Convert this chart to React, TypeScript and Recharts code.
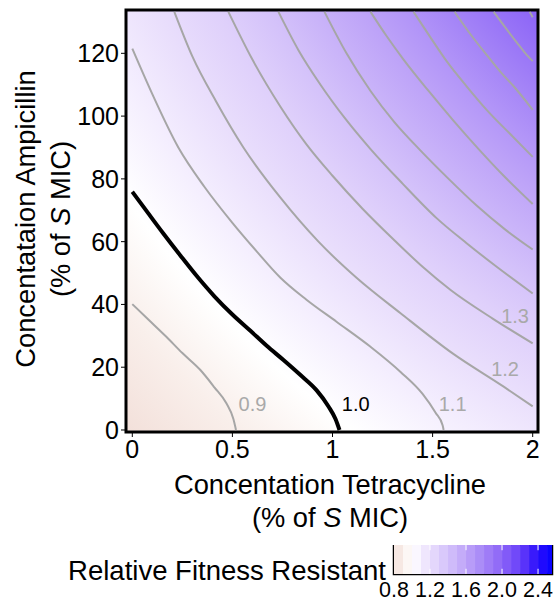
import React from "react";
import {
  ComposedChart,
  Line,
  Scatter,
  XAxis,
  YAxis,
  ReferenceArea,
  ReferenceLine,
  BarChart,
  Bar,
  Cell,
} from "recharts";

type Pt = { x: number; y: number };

const FONT = "'Liberation Sans', Arial, sans-serif";

// contour lines (x = tetracycline, y = ampicillin)
const c09: Pt[] = [
  { x: 0, y: 40.1 }, { x: 0.08, y: 35.2 }, { x: 0.17, y: 29.7 }, { x: 0.25, y: 24.5 },
  { x: 0.34, y: 19.1 }, { x: 0.41, y: 13.6 }, { x: 0.47, y: 8.5 }, { x: 0.505, y: 3.5 },
  { x: 0.518, y: 0 },
];
const c10: Pt[] = [
  { x: 0, y: 75.9 }, { x: 0.08, y: 69 }, { x: 0.155, y: 62.6 }, { x: 0.24, y: 55.6 },
  { x: 0.32, y: 49.2 }, { x: 0.41, y: 42.6 }, { x: 0.5, y: 36.8 }, { x: 0.59, y: 31.6 },
  { x: 0.67, y: 26.9 }, { x: 0.755, y: 22.3 }, { x: 0.84, y: 17.5 }, { x: 0.92, y: 12.7 },
  { x: 0.98, y: 7.5 }, { x: 1.015, y: 3.5 }, { x: 1.035, y: 0 },
];
const c11: Pt[] = [
  { x: 0, y: 121.5 }, { x: 0.1, y: 107 }, { x: 0.23, y: 90 }, { x: 0.36, y: 77.5 },
  { x: 0.5, y: 66 }, { x: 0.62, y: 57 }, { x: 0.74, y: 48.5 }, { x: 0.87, y: 41.5 },
  { x: 1.02, y: 34.5 }, { x: 1.19, y: 26.5 }, { x: 1.34, y: 18.5 }, { x: 1.45, y: 11.5 },
  { x: 1.515, y: 5.5 }, { x: 1.55, y: 1.5 }, { x: 1.555, y: 0 },
];
const c12: Pt[] = [
  { x: 0.21, y: 133.2 }, { x: 0.3, y: 119 }, { x: 0.42, y: 104.5 }, { x: 0.555, y: 90 },
  { x: 0.74, y: 74 }, { x: 0.93, y: 60 }, { x: 1.12, y: 48.5 }, { x: 1.34, y: 37.2 },
  { x: 1.6, y: 24.4 }, { x: 1.855, y: 13.8 }, { x: 2.0, y: 7.5 },
];
const c13: Pt[] = [
  { x: 0.48, y: 133.2 }, { x: 0.6, y: 118 }, { x: 0.74, y: 103 }, { x: 0.87, y: 91 },
  { x: 1.0, y: 81 }, { x: 1.15, y: 70.5 }, { x: 1.3, y: 61 }, { x: 1.45, y: 52 },
  { x: 1.59, y: 44.6 }, { x: 1.8, y: 35.5 }, { x: 2.0, y: 27.6 },
];
const c14: Pt[] = [
  { x: 0.73, y: 133.2 }, { x: 0.83, y: 121 }, { x: 0.94, y: 110 }, { x: 1.06, y: 99.5 },
  { x: 1.19, y: 89.5 }, { x: 1.35, y: 78.5 }, { x: 1.52, y: 67.5 }, { x: 1.67, y: 59.5 },
  { x: 1.82, y: 52 }, { x: 2.0, y: 43.5 },
];
const c15: Pt[] = [
  { x: 0.96, y: 133.2 }, { x: 1.07, y: 120 }, { x: 1.19, y: 108 }, { x: 1.31, y: 98 },
  { x: 1.44, y: 89 }, { x: 1.58, y: 80 }, { x: 1.72, y: 71.5 }, { x: 1.86, y: 64 },
  { x: 2.0, y: 57.5 },
];
const c16: Pt[] = [
  { x: 1.19, y: 133.2 }, { x: 1.27, y: 125.5 }, { x: 1.355, y: 118 }, { x: 1.48, y: 108 },
  { x: 1.605, y: 98.5 }, { x: 1.73, y: 89.5 }, { x: 1.855, y: 81 }, { x: 2.0, y: 72 },
];
const c17: Pt[] = [
  { x: 1.405, y: 133.2 }, { x: 1.49, y: 125 }, { x: 1.57, y: 117.5 }, { x: 1.67, y: 109.5 },
  { x: 1.77, y: 102 }, { x: 1.9, y: 93.5 }, { x: 2.0, y: 87 },
];
const c18: Pt[] = [
  { x: 1.61, y: 133.2 }, { x: 1.69, y: 126 }, { x: 1.77, y: 119.5 }, { x: 1.84, y: 114 },
  { x: 1.905, y: 109.5 }, { x: 2.0, y: 102 },
];
const c19: Pt[] = [
  { x: 1.805, y: 133.2 }, { x: 1.86, y: 128.5 }, { x: 1.92, y: 123.5 }, { x: 1.97, y: 119.5 },
  { x: 2.0, y: 117.5 },
];
const c20: Pt[] = [{ x: 1.985, y: 133.2 }, { x: 2.0, y: 131.5 }];

const grayContours = [c09, c11, c12, c13, c14, c15, c16, c17, c18, c19, c20];

const contourLabels = [
  { x: 0.6, y: 8.3, text: "0.9", dark: false },
  { x: 1.116, y: 8.2, text: "1.0", dark: true },
  { x: 1.6, y: 8.2, text: "1.1", dark: false },
  { x: 1.862, y: 19.3, text: "1.2", dark: false },
  { x: 1.912, y: 36.2, text: "1.3", dark: false },
];

const xTicks = [0, 0.5, 1, 1.5, 2];
const yTicks = [0, 20, 40, 60, 80, 100, 120];

// colour bar blocks (centre of each 0.1 step)
const legendBins = [
  0.85, 0.95, 1.05, 1.15, 1.25, 1.35, 1.45, 1.55, 1.65, 1.75, 1.85, 1.95, 2.05, 2.15, 2.25, 2.35, 2.45, 2.55,
];
const legendTicks = [0.8, 1.2, 1.6, 2.0, 2.4];
const legendMarks = [1.2, 1.6, 2.0, 2.4];

// colour scale of the fill
const colorStops: [number, string][] = [
  [0.5, "#ecd0c6"], [0.8, "#f3e0da"], [0.9, "#f9efeb"], [1.0, "#ffffff"],
  [1.1, "#f4eefe"], [1.2, "#e9defc"], [1.4, "#d4c2fa"], [1.6, "#bea4f8"],
  [1.8, "#a585f7"], [2.0, "#8b63f7"], [2.2, "#6840f9"], [2.4, "#2a0dfc"], [2.6, "#0000ff"],
];

// radial fill: offset from the far top-right centre -> fitness level
const bgStops: [number, number][] = [
  [0.5, 2.0], [0.529, 1.9], [0.558, 1.8], [0.587, 1.7], [0.618, 1.6], [0.651, 1.5],
  [0.684, 1.4], [0.721, 1.3], [0.767, 1.2], [0.817, 1.1], [0.872, 1.0], [0.932, 0.9], [1.0, 0.8],
];

function hex(c: string) {
  return [1, 3, 5].map((i) => parseInt(c.slice(i, i + 2), 16));
}
function colorAt(v: number) {
  for (let i = 0; i < colorStops.length - 1; i++) {
    const [a, ca] = colorStops[i];
    const [b, cb] = colorStops[i + 1];
    if (v <= b || i === colorStops.length - 2) {
      const t = Math.max(0, Math.min(1, (v - a) / (b - a)));
      const A = hex(ca);
      const B = hex(cb);
      return `rgb(${A.map((x, k) => Math.round(x + (B[k] - x) * t)).join(",")})`;
    }
  }
  return "#fff";
}

const legendData = legendBins.map((v) => ({ v, h: 1 }));

const LabelDot = (p: any) => (
  <text
    x={p.cx}
    y={p.cy}
    textAnchor="middle"
    dominantBaseline="central"
    fontSize={20}
    fontFamily={FONT}
    fill={p.payload.dark ? "#000" : "#a9a9a9"}
  >
    {p.payload.text}
  </text>
);

const XTitle = (props: any) => {
  const vb = props.viewBox;
  const cx = vb.x + vb.width / 2 - 2;
  return (
    <text textAnchor="middle" fontSize={27.3} fontFamily={FONT} fill="#000">
      <tspan x={cx} y={vb.y + 62}>Concentation Tetracycline</tspan>
      <tspan x={cx} y={vb.y + 95}>
        (% of <tspan fontStyle="italic">S</tspan> MIC)
      </tspan>
    </text>
  );
};

const YTitle = (props: any) => {
  const vb = props.viewBox;
  const cy = vb.y + vb.height / 2 - 2;
  return (
    <g transform={`rotate(-90, 0, ${cy})`}>
      <text textAnchor="middle" fontSize={27.3} fontFamily={FONT} fill="#000">
        <tspan x={0} y={cy + 35}>Concentataion Ampicillin</tspan>
        <tspan x={0} y={cy + 70}>
          (% of <tspan fontStyle="italic">S</tspan> MIC)
        </tspan>
      </text>
    </g>
  );
};

export default function App() {
  const tick = { fontSize: 25, fill: "#000", fontFamily: FONT };
  return (
    <div style={{ position: "absolute", left: 0, top: 0, width: 555, height: 601, background: "#fff" }}>
      <ComposedChart width={555} height={601} margin={{ top: 10, right: 17, bottom: 0, left: 0 }}>
        <defs>
          <radialGradient id="bgGrad" gradientUnits="objectBoundingBox" cx={2} cy={-1} r={2.828}>
            {bgStops.map(([o, v], i) => (
              <stop key={i} offset={o} stopColor={colorAt(v)} />
            ))}
          </radialGradient>
        </defs>
        <XAxis
          type="number"
          dataKey="x"
          domain={[-0.0315, 2.0265]}
          allowDataOverflow
          ticks={xTicks}
          tickFormatter={(v) => String(v)}
          axisLine={false}
          tickLine={{ stroke: "#000" }}
          tickSize={5}
          tickMargin={3}
          tick={tick}
          height={169}
          label={{ content: XTitle }}
        />
        <YAxis
          type="number"
          dataKey="y"
          domain={[-0.64, 133.8]}
          allowDataOverflow
          ticks={yTicks}
          axisLine={false}
          tickLine={{ stroke: "#000" }}
          tickSize={5}
          tickMargin={2}
          tick={tick}
          width={126}
          label={{ content: YTitle }}
        />
        <ReferenceArea
          x1={-0.0315}
          x2={2.0265}
          y1={-0.64}
          y2={133.8}
          fill="url(#bgGrad)"
          fillOpacity={1}
          stroke="#000"
          strokeWidth={3}
          zIndex={-10}
        />
        {grayContours.map((pts, i) => (
          <Line
            key={i}
            data={pts}
            dataKey="y"
            type="monotone"
            stroke="#a6a6a6"
            strokeWidth={2}
            dot={false}
            activeDot={false}
            isAnimationActive={false}
          />
        ))}
        <Line
          data={c10}
          dataKey="y"
          type="monotone"
          stroke="#000"
          strokeWidth={4}
          dot={false}
          activeDot={false}
          isAnimationActive={false}
        />
        <Scatter data={contourLabels} dataKey="y" shape={LabelDot} isAnimationActive={false} />
      </ComposedChart>

      <div
        style={{
          position: "absolute",
          right: 555 - 386,
          top: 557,
          fontFamily: FONT,
          fontSize: 27.5,
          lineHeight: 1,
          whiteSpace: "nowrap",
          color: "#000",
        }}
      >
        Relative Fitness Resistant
      </div>

      <div style={{ position: "absolute", left: 379, top: 545 }}>
        <BarChart
          width={176}
          height={62}
          data={legendData}
          margin={{ top: 0, right: 3, bottom: 0, left: 15 }}
          barCategoryGap={0}
          barGap={0}
        >
          <XAxis
            dataKey="v"
            type="number"
            domain={[0.8, 2.555]}
            allowDataOverflow
            ticks={legendTicks}
            interval={0}
            tickFormatter={(v) => Number(v).toFixed(1)}
            axisLine={false}
            tickLine={false}
            tickSize={5}
            tickMargin={3}
            height={33}
            tick={{ fontSize: 21.5, fill: "#000", fontFamily: FONT }}
          />
          <YAxis hide domain={[0, 1]} />
          <Bar dataKey="h" isAnimationActive={false}>
            {legendData.map((d, i) => (
              <Cell key={i} fill={colorAt(d.v)} />
            ))}
          </Bar>
          {legendMarks.map((m) => (
            <ReferenceLine key={"b" + m} segment={[{ x: m, y: 0 }, { x: m, y: 0.18 }]} stroke="#fff" strokeWidth={1} />
          ))}
          {legendMarks.map((m) => (
            <ReferenceLine key={"t" + m} segment={[{ x: m, y: 0.82 }, { x: m, y: 1 }]} stroke="#fff" strokeWidth={1} />
          ))}
          <ReferenceArea x1={0.8} x2={2.555} y1={0} y2={1} fill="none" stroke="#000" strokeWidth={2.5} />
        </BarChart>
      </div>
    </div>
  );
}
